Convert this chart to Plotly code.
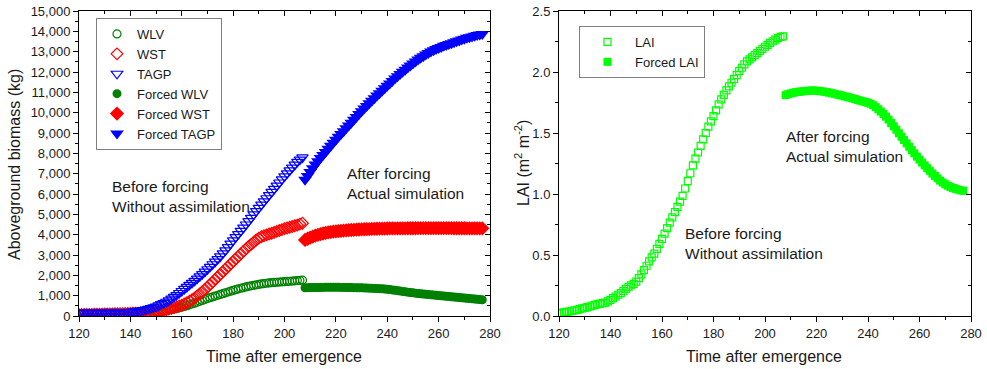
import plotly.graph_objects as go

# ---------------- data ----------------
days_before = list(range(120, 208))   # 120..207
days_forced = list(range(208, 278))   # 208..277

wlv = [95, 96, 97, 98, 99, 100, 101, 102, 103, 104,
       105, 107, 109, 111, 113, 115, 118, 121, 124, 127,
       130, 134, 138, 142, 146, 150, 157, 165, 173, 181,
       190, 207, 228, 250, 270, 290, 315, 342, 370, 400,
       430, 468, 508, 548, 590, 630, 676, 722, 768, 814,
       860, 900, 940, 980, 1020, 1060, 1100, 1140, 1180, 1220,
       1260, 1295, 1330, 1365, 1398, 1430, 1457, 1483, 1510, 1535,
       1560, 1577, 1594, 1610, 1625, 1640, 1650, 1660, 1670, 1680,
       1690, 1700, 1710, 1720, 1730, 1740, 1750, 1760]

wst = [70, 72, 74, 76, 78, 80, 83, 86, 89, 92,
       95, 98, 101, 104, 107, 110, 114, 118, 122, 126,
       130, 134, 138, 142, 146, 150, 160, 172, 185, 197,
       210, 232, 258, 285, 312, 340, 375, 412, 450, 490,
       530, 590, 655, 725, 800, 880, 980, 1085, 1190, 1305,
       1420, 1545, 1670, 1795, 1920, 2050, 2175, 2300, 2425, 2555,
       2680, 2805, 2930, 3055, 3180, 3300, 3415, 3525, 3630, 3735,
       3830, 3900, 3950, 3990, 4030, 4070, 4115, 4160, 4205, 4250,
       4295, 4330, 4365, 4400, 4435, 4470, 4520, 4560]

tagp = [150, 151, 152, 153, 154, 155, 156, 158, 160, 162,
        164, 166, 168, 171, 174, 177, 181, 185, 190, 196,
        205, 218, 232, 248, 265, 285, 315, 350, 390, 425,
        465, 520, 580, 640, 700, 765, 850, 940, 1030, 1130,
        1230, 1330, 1430, 1530, 1630, 1730, 1840, 1950, 2060, 2180,
        2300, 2420, 2545, 2670, 2800, 2930, 3080, 3230, 3390, 3555,
        3720, 3875, 4030, 4190, 4345, 4500, 4665, 4830, 4995, 5160,
        5320, 5480, 5635, 5790, 5945, 6100, 6255, 6410, 6565, 6720,
        6870, 7015, 7160, 7300, 7440, 7580, 7690, 7800]

forced_wlv = [1390, 1395, 1398, 1400, 1402, 1404, 1406, 1407, 1408, 1409,
              1410, 1410, 1410, 1409, 1407, 1405, 1403, 1400, 1397, 1394,
              1391, 1388, 1385, 1380, 1375, 1370, 1364, 1358, 1352, 1345,
              1337, 1328, 1315, 1300, 1283, 1265, 1246, 1227, 1208, 1190,
              1172, 1155, 1138, 1122, 1107, 1093, 1079, 1066, 1053, 1040,
              1027, 1015, 1003, 991, 979, 967, 955, 943, 931, 919,
              907, 895, 883, 870, 858, 846, 834, 822, 810, 800]

forced_wst = [3740, 3800, 3855, 3905, 3950, 3990, 4025, 4058, 4085, 4108,
              4128, 4145, 4160, 4175, 4188, 4200, 4211, 4221, 4230, 4238,
              4246, 4253, 4260, 4266, 4272, 4277, 4282, 4286, 4290, 4294,
              4297, 4300, 4303, 4305, 4307, 4309, 4311, 4312, 4313, 4314,
              4315, 4315, 4316, 4316, 4317, 4317, 4317, 4318, 4318, 4318,
              4318, 4318, 4318, 4318, 4318, 4317, 4317, 4317, 4316, 4316,
              4316, 4315, 4315, 4314, 4314, 4313, 4313, 4312, 4312, 4311]

forced_tagp = [6700, 6890, 7080, 7265, 7450, 7610, 7765, 7920, 8070, 8220,
               8370, 8520, 8665, 8810, 8950, 9090, 9230, 9370, 9510, 9650,
               9790, 9930, 10065, 10200, 10330, 10460, 10590, 10715, 10840, 10960,
               11080, 11200, 11320, 11440, 11560, 11675, 11790, 11900, 12010, 12115,
               12220, 12320, 12420, 12515, 12610, 12695, 12780, 12860, 12935, 13005,
               13070, 13130, 13185, 13235, 13285, 13330, 13375, 13420, 13465, 13510,
               13555, 13600, 13640, 13680, 13715, 13750, 13785, 13815, 13845, 13875]

lai = [0.022, 0.026, 0.030, 0.033, 0.037, 0.041, 0.046, 0.051, 0.056, 0.062,
       0.067, 0.073, 0.078, 0.085, 0.091, 0.097, 0.102, 0.106, 0.110, 0.120,
       0.132, 0.146, 0.160, 0.174, 0.187, 0.205, 0.222, 0.238, 0.252, 0.263,
       0.282, 0.310, 0.342, 0.376, 0.412, 0.447, 0.480, 0.512, 0.550, 0.592,
       0.632, 0.675, 0.720, 0.765, 0.808, 0.852, 0.895, 0.938, 0.985, 1.045,
       1.105, 1.170, 1.235, 1.290, 1.340, 1.395, 1.448, 1.500, 1.552, 1.595,
       1.638, 1.685, 1.735, 1.775, 1.812, 1.850, 1.882, 1.912, 1.942, 1.975,
       2.008, 2.035, 2.062, 2.087, 2.103, 2.120, 2.138, 2.155, 2.172, 2.190,
       2.207, 2.222, 2.238, 2.252, 2.265, 2.278, 2.288, 2.292]

forced_lai = [1.810, 1.818, 1.825, 1.830, 1.835, 1.838, 1.840, 1.842, 1.845, 1.847,
              1.848, 1.848, 1.847, 1.845, 1.842, 1.838, 1.835, 1.830, 1.826, 1.821,
              1.816, 1.811, 1.806, 1.800, 1.795, 1.790, 1.784, 1.778, 1.771, 1.765,
              1.760, 1.754, 1.748, 1.740, 1.728, 1.712, 1.695, 1.676, 1.656, 1.634,
              1.610, 1.582, 1.555, 1.527, 1.498, 1.470, 1.442, 1.415, 1.388, 1.360,
              1.333, 1.306, 1.282, 1.258, 1.235, 1.212, 1.190, 1.168, 1.148, 1.128,
              1.110, 1.094, 1.080, 1.068, 1.058, 1.050, 1.042, 1.036, 1.030, 1.026]

x_ticks = [120, 140, 160, 180, 200, 220, 240, 260, 280]

# ---------------- styles ----------------
FONT = "Liberation Sans, Arial, sans-serif"
GREEN = "#008000"
RED = "#FF0000"
BLUE = "#0000FF"
LIME = "#00FF00"
TXT = "#1a1a1a"

W, H = 987, 369
def px_x(p):
    return p / W
def px_y(p):
    return 1 - p / H

LX = [px_x(79), px_x(490)]
RX = [px_x(559), px_x(971)]
YD = [px_y(316), px_y(11)]

fig = go.Figure()

def add(x, y, name, symbol, color, size, xa, ya, leg, lw=1.2):
    fig.add_trace(go.Scatter(
        x=x, y=y, name=name, mode="markers", xaxis=xa, yaxis=ya, legend=leg,
        marker=dict(symbol=symbol, size=size, color=color,
                    line=dict(color=color, width=lw))))

add(days_before, wlv, "WLV", "circle-open", GREEN, 8, "x", "y", "legend")
add(days_before, wst, "WST", "diamond-open", RED, 9, "x", "y", "legend")
add(days_before, tagp, "TAGP", "triangle-down-open", BLUE, 10, "x", "y", "legend")
add(days_forced, forced_wlv, "Forced WLV", "circle", GREEN, 9, "x", "y", "legend", 0)
add(days_forced, forced_wst, "Forced WST", "diamond", RED, 11, "x", "y", "legend", 0)
add(days_forced, forced_tagp, "Forced TAGP", "triangle-down", BLUE, 12, "x", "y", "legend", 0)

add(days_before, lai, "LAI", "square-open", LIME, 7, "x2", "y2", "legend2")
add(days_forced, forced_lai, "Forced LAI", "square", LIME, 8, "x2", "y2", "legend2", 0)

tickfont = dict(family=FONT, size=13, color=TXT)

def base_x(domain, anchor):
    return dict(domain=domain, anchor=anchor, range=[120, 280], tickvals=x_ticks,
                ticks="outside", ticklen=5, tickwidth=1, tickcolor="black",
                minor=dict(dtick=10, ticks="outside", ticklen=3, tickcolor="black"),
                showline=True, linecolor="black", linewidth=1, mirror=False,
                showgrid=False, zeroline=False, tickfont=tickfont, automargin=False)

def base_y(domain, anchor, rng, dtick, mdtick, fmt):
    return dict(domain=domain, anchor=anchor, range=rng, dtick=dtick, tick0=0,
                tickformat=fmt,
                ticks="outside", ticklen=5, tickwidth=1, tickcolor="black",
                minor=dict(dtick=mdtick, ticks="outside", ticklen=3, tickcolor="black"),
                showline=True, linecolor="black", linewidth=1, mirror=False,
                showgrid=False, zeroline=False, tickfont=tickfont, automargin=False)

def over_x(over, anchor):
    return dict(overlaying=over, anchor=anchor, side="top", range=[120, 280], dtick=20, tick0=120,
                ticks="inside", ticklen=5, tickcolor="black",
                minor=dict(dtick=10, ticks="inside", ticklen=3, tickcolor="black"),
                showticklabels=False, showline=True, linecolor="black", linewidth=1,
                showgrid=False, zeroline=False, automargin=False)

def over_y(over, anchor, rng, dtick, mdtick):
    return dict(overlaying=over, anchor=anchor, side="right", range=rng, dtick=dtick, tick0=0,
                ticks="inside", ticklen=5, tickcolor="black",
                minor=dict(dtick=mdtick, ticks="inside", ticklen=3, tickcolor="black"),
                showticklabels=False, showline=True, linecolor="black", linewidth=1,
                showgrid=False, zeroline=False, automargin=False)

legfont = dict(family=FONT, size=13, color=TXT)
annfont = dict(family=FONT, size=15.5, color=TXT)
titlefont = dict(family=FONT, size=16, color=TXT)

fig.update_layout(
    width=W, height=H, autosize=False,
    margin=dict(l=0, r=0, t=0, b=0, pad=0),
    paper_bgcolor="white", plot_bgcolor="white",
    font=dict(family=FONT, color=TXT),
    xaxis=base_x(LX, "y"),
    yaxis=base_y(YD, "x", [0, 15000], 1000, 500, ",d"),
    xaxis2=base_x(RX, "y2"),
    yaxis2=base_y(YD, "x2", [0, 2.5], 0.5, 0.25, ".1f"),
    xaxis3=over_x("x", "y3"),
    yaxis3=over_y("y", "x3", [0, 15000], 1000, 500),
    xaxis4=over_x("x2", "y4"),
    yaxis4=over_y("y2", "x4", [0, 2.5], 0.5, 0.25),
    legend=dict(x=px_x(96), y=px_y(18), xanchor="left", yanchor="top",
                bordercolor="#808080", borderwidth=1, bgcolor="white",
                font=legfont, tracegroupgap=0),
    legend2=dict(x=px_x(579), y=px_y(26), xanchor="left", yanchor="top",
                 bordercolor="#808080", borderwidth=1, bgcolor="white",
                 font=legfont, itemwidth=45),
    showlegend=True,
)

# invisible placeholders so the mirrored (inside-tick) axes are drawn
fig.add_trace(go.Scatter(x=[None], y=[None], xaxis="x3", yaxis="y3", showlegend=False, hoverinfo="skip"))
fig.add_trace(go.Scatter(x=[None], y=[None], xaxis="x4", yaxis="y4", showlegend=False, hoverinfo="skip"))

anns = [
    dict(text="Before forcing<br>Without assimilation", x=132.1, y=5900, xref="x", yref="y"),
    dict(text="After forcing<br>Actual simulation", x=223.5, y=6540, xref="x", yref="y"),
    dict(text="After forcing<br>Actual simulation", x=207.4, y=1.389, xref="x2", yref="y2"),
    dict(text="Before forcing<br>Without assimilation", x=168.3, y=0.596, xref="x2", yref="y2"),
]
for a in anns:
    fig.add_annotation(showarrow=False, xanchor="left", yanchor="middle", align="left",
                       font=annfont, **a)

# axis titles
fig.add_annotation(text="Time after emergence", x=px_x(284), y=px_y(356), xref="paper", yref="paper",
                   showarrow=False, xanchor="center", yanchor="middle", font=titlefont)
fig.add_annotation(text="Time after emergence", x=px_x(764), y=px_y(356), xref="paper", yref="paper",
                   showarrow=False, xanchor="center", yanchor="middle", font=titlefont)
fig.add_annotation(text="Aboveground biomass (kg)", x=px_x(14), y=px_y(165), xref="paper", yref="paper",
                   showarrow=False, xanchor="center", yanchor="middle", textangle=-90, font=titlefont)
fig.add_annotation(text="LAI (m<sup>2</sup> m<sup>-2</sup>)", x=px_x(522), y=px_y(163), xref="paper", yref="paper",
                   showarrow=False, xanchor="center", yanchor="middle", textangle=-90, font=titlefont)

fig.write_html("out.html")
